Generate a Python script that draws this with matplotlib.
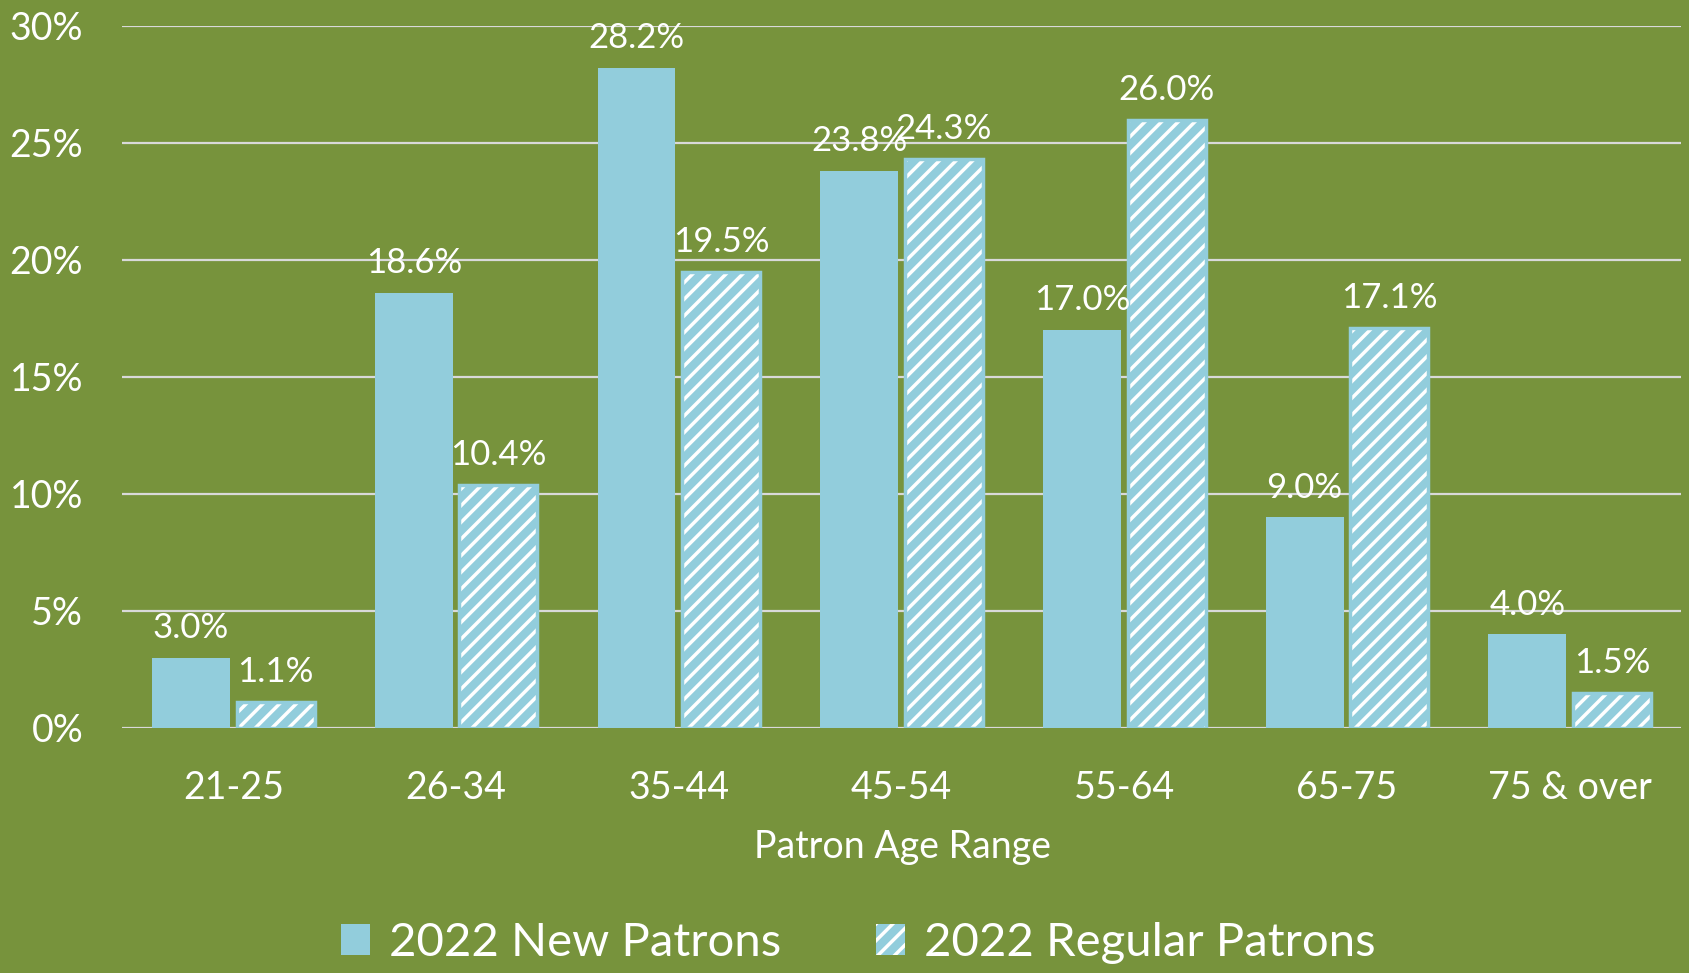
import matplotlib.pyplot as plt
import numpy as np

# data
age_ranges = ["21-25", "26-34", "35-44", "45-54", "55-64", "65-75", "75 & over"]
new_patrons = [3.0, 18.6, 28.2, 23.8, 17.0, 9.0, 4.0]
regular_patrons = [1.1, 10.4, 19.5, 24.3, 26.0, 17.1, 1.5]
y_ticks = [0, 5, 10, 15, 20, 25, 30]

bg = "#77933C"
bar_blue = "#92CDDC"
grid_grey = "#D9D9D9"

plt.rcParams["font.family"] = ["Lato", "DejaVu Sans"]
plt.rcParams["hatch.linewidth"] = 2.5

fig = plt.figure(figsize=(16.9, 9.73), dpi=100, facecolor=bg)
ax = fig.add_axes([0.0722, 0.2518, 0.9225, 0.7215])
ax.set_facecolor(bg)

x = np.arange(len(age_ranges))
w = 0.35
off = 0.19

b1 = ax.bar(x - off, new_patrons, w, color=bar_blue, linewidth=0,
            label="2022 New Patrons", zorder=3)
b2 = ax.bar(x + off, regular_patrons, w, facecolor=bar_blue, edgecolor="white",
            hatch="//", linewidth=0, label="2022 Regular Patrons", zorder=3)
# blue outline around the hatched bars
ax.bar(x + off, regular_patrons, w, fill=False, edgecolor=bar_blue,
       linewidth=2.5, zorder=4)

for bars, vals in [(b1, new_patrons), (b2, regular_patrons)]:
    for rect, v in zip(bars, vals):
        ax.annotate(f"{v:.1f}%", (rect.get_x() + rect.get_width() / 2, v),
                    xytext=(0, 10), textcoords="offset points",
                    ha="center", va="bottom", color="white", fontsize=25,
                    zorder=5)

ax.set_xlim(-0.5, len(age_ranges) - 0.5)
ax.set_ylim(0, 30)
ax.set_yticks(y_ticks)
ax.set_yticklabels([f"{t}%" for t in y_ticks])
ax.set_xticks(x)
ax.set_xticklabels(age_ranges)
ax.tick_params(axis="both", length=0, colors="white", labelsize=27)
ax.tick_params(axis="y", pad=28)
ax.tick_params(axis="x", pad=30)
ax.yaxis.grid(True, color=grid_grey, linewidth=1.6, zorder=0)
ax.set_axisbelow(True)
for s in ax.spines.values():
    s.set_visible(False)

fig.text(0.534, 0.130, "Patron Age Range", ha="center", va="center",
         color="white", fontsize=27)

leg = fig.legend(handles=[b1, b2], loc="center", bbox_to_anchor=(0.508, 0.031),
                 ncol=2, frameon=False, fontsize=34, labelcolor="white",
                 handlelength=0.62, handleheight=0.62, handletextpad=0.4,
                 columnspacing=2.0)

plt.savefig("out.png", dpi=100, facecolor=bg)
